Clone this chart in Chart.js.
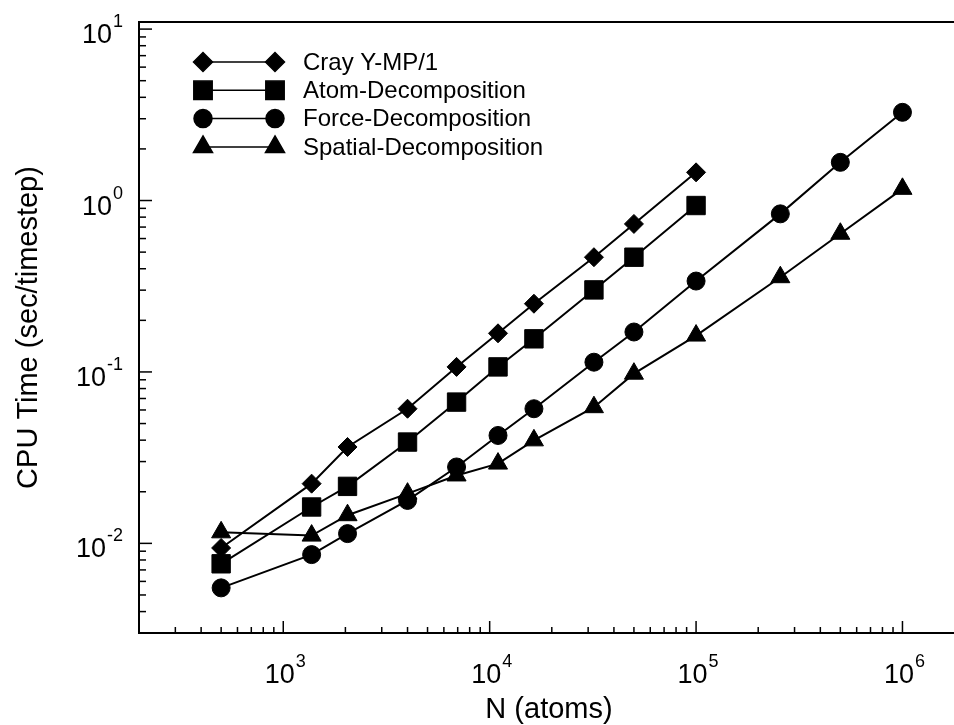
<!DOCTYPE html>
<html>
<head>
<meta charset="utf-8">
<script src="https://cdn.jsdelivr.net/npm/chart.js"></script>
<style>
body { margin: 0; background: #fff; }
#wrap { width: 954px; height: 725px; }
</style>
</head>
<body>
<div id="wrap"><canvas id="myChart"></canvas></div>
<script>
// N values (atoms) and CPU time per timestep (sec)
const nAtoms = [500, 1372, 2048, 4000, 6912, 10976, 16384, 32000, 50000, 100000, 256000, 500000, 1000000];
const cray = [0.0094, 0.0223, 0.0365, 0.061, 0.107, 0.168, 0.25, 0.467, 0.73, 1.46];
const atomDecomp = [0.0076, 0.0163, 0.0215, 0.039, 0.0667, 0.107, 0.156, 0.301, 0.467, 0.935];
const forceDecomp = [0.0055, 0.0086, 0.0114, 0.0178, 0.0279, 0.0426, 0.061, 0.114, 0.171, 0.339, 0.836, 1.67, 3.27];
const spatialDecomp = [0.0116, 0.0111, 0.0146, 0.0195, 0.0249, 0.0292, 0.0399, 0.0623, 0.0977, 0.163, 0.357, 0.64, 1.17];
const seriesNames = ['Cray Y-MP/1', 'Atom-Decomposition', 'Force-Decomposition', 'Spatial-Decomposition'];
const xExponents = [3, 4, 5, 6];
const yExponents = [-2, -1, 0, 1];

const FONT = 'Liberation Sans, Arial, Helvetica, sans-serif';

function pts(vals) {
    return vals.map((v, i) => ({ x: nAtoms[i], y: v }));
}

function ds(label, vals, style, r) {
    return {
        label: label,
        data: pts(vals),
        showLine: true,
        borderColor: '#000',
        backgroundColor: '#000',
        borderWidth: 2,
        pointStyle: style,
        pointRadius: r,
        pointBorderWidth: 1,
        pointBackgroundColor: '#000',
        pointBorderColor: '#000'
    };
}

const axisDecor = {
    id: 'axisDecor',
    afterDraw(chart) {
        const ctx = chart.ctx;
        const a = chart.chartArea;
        const xs = chart.scales.x;
        const ys = chart.scales.y;
        const right = chart.width;
        ctx.save();
        ctx.strokeStyle = '#000';
        ctx.fillStyle = '#000';

        // frame: left, bottom, top (runs out to the page edge)
        ctx.lineWidth = 2;
        ctx.beginPath();
        ctx.moveTo(right, a.top);
        ctx.lineTo(a.left, a.top);
        ctx.lineTo(a.left, a.bottom);
        ctx.lineTo(right, a.bottom);
        ctx.stroke();

        // inward ticks
        ctx.lineWidth = 1.5;
        for (let e = -3; e <= 1; e++) {
            for (let m = 1; m < 10; m++) {
                const v = m * Math.pow(10, e);
                if (v <= ys.min || v >= ys.max) continue;
                const y = ys.getPixelForValue(v);
                ctx.beginPath();
                ctx.moveTo(a.left, y);
                ctx.lineTo(a.left + (m === 1 ? 13 : 7), y);
                ctx.stroke();
            }
        }
        for (let e = 2; e <= 6; e++) {
            for (let m = 1; m < 10; m++) {
                const v = m * Math.pow(10, e);
                if (v <= xs.min || v >= xs.max) continue;
                const x = xs.getPixelForValue(v);
                ctx.beginPath();
                ctx.moveTo(x, a.bottom);
                ctx.lineTo(x, a.bottom - (m === 1 ? 12 : 6));
                ctx.stroke();
            }
        }

        // tick labels 10^n
        const big = '27px ' + FONT;
        const small = '18px ' + FONT;
        ctx.textBaseline = 'alphabetic';
        yExponents.forEach(e => {
            const y = ys.getPixelForValue(Math.pow(10, e));
            const ex = String(e);
            ctx.font = small;
            ctx.textAlign = 'right';
            const ew = ctx.measureText(ex).width;
            ctx.fillText(ex, 123, y - 2);
            ctx.font = big;
            ctx.fillText('10', 123 - ew - 1, y + 14);
        });
        xExponents.forEach(e => {
            const x = xs.getPixelForValue(Math.pow(10, e));
            const ex = String(e);
            ctx.font = big;
            const bw = ctx.measureText('10').width;
            ctx.font = small;
            const ew = ctx.measureText(ex).width;
            const x0 = x + 2 - (bw + ew + 1) / 2;
            ctx.textAlign = 'left';
            ctx.font = big;
            ctx.fillText('10', x0, 683);
            ctx.font = small;
            ctx.fillText(ex, x0 + bw + 1, 667);
        });

        // axis titles
        ctx.font = '29px ' + FONT;
        ctx.textAlign = 'center';
        ctx.fillText('N (atoms)', 549, 718);
        ctx.save();
        ctx.translate(37, (a.top + a.bottom) / 2);
        ctx.rotate(-Math.PI / 2);
        ctx.fillText('CPU Time (sec/timestep)', 0, 0);
        ctx.restore();

        // legend: marker, line, marker, text
        ctx.font = '24px ' + FONT;
        ctx.textAlign = 'left';
        ctx.textBaseline = 'middle';
        chart.data.datasets.forEach((d, i) => {
            const y = 62 + i * 28.3;
            ctx.lineWidth = 1.5;
            ctx.beginPath();
            ctx.moveTo(203, y);
            ctx.lineTo(275, y);
            ctx.stroke();
            const opt = { pointStyle: d.pointStyle, radius: d.pointRadius, rotation: 0, borderWidth: 1 };
            Chart.helpers.drawPoint(ctx, opt, 203, y);
            Chart.helpers.drawPoint(ctx, opt, 275, y);
            ctx.fillText(d.label, 303, y + 1);
        });
        ctx.restore();
    }
};

const config = {
    type: 'scatter',
    data: {
        datasets: [
            ds(seriesNames[0], cray, 'rectRot', 9.5),
            ds(seriesNames[1], atomDecomp, 'rect', 13),
            ds(seriesNames[2], forceDecomp, 'circle', 9),
            ds(seriesNames[3], spatialDecomp, 'triangle', 11)
        ]
    },
    options: {
        responsive: true,
        maintainAspectRatio: false,
        animation: false,
        events: [],
        layout: { padding: { left: 139, top: 22, right: 0, bottom: 92 } },
        plugins: { legend: { display: false }, tooltip: { enabled: false } },
        scales: {
            x: {
                type: 'logarithmic',
                min: 200,
                max: 1520000,
                grid: { display: false, drawTicks: false },
                border: { display: false },
                ticks: { display: false },
                afterFit: s => { s.height = 0; }
            },
            y: {
                type: 'logarithmic',
                min: 0.003,
                max: 11,
                grid: { display: false, drawTicks: false },
                border: { display: false },
                ticks: { display: false },
                afterFit: s => { s.width = 0; }
            }
        }
    },
    plugins: [axisDecor]
};

const myChart = new Chart(document.getElementById('myChart'), config);
</script>
</body>
</html>
